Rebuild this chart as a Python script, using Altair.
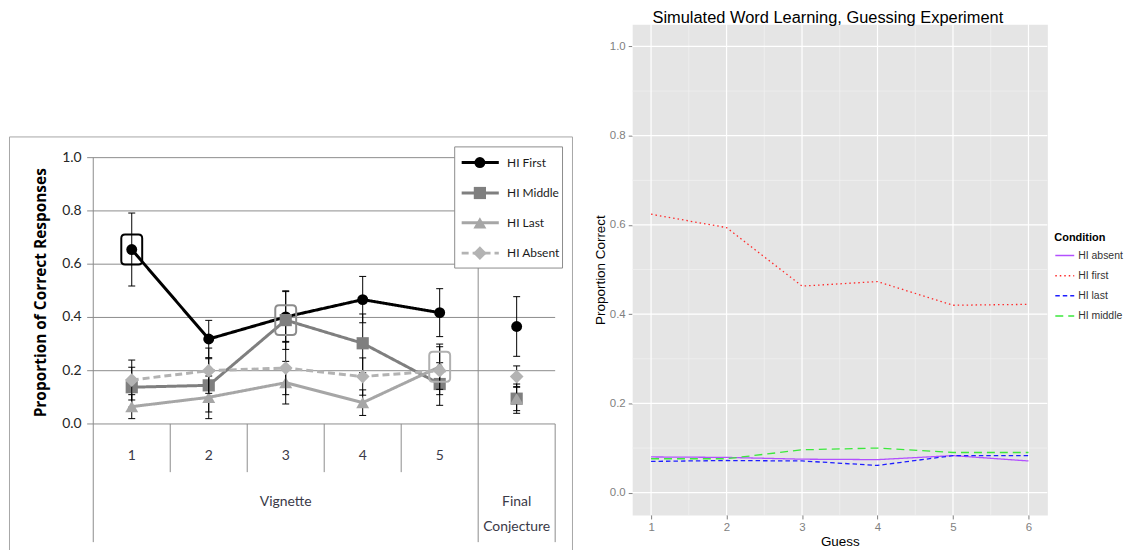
import altair as alt
import pandas as pd

# ---------------- Left panel data (Excel-style chart) ----------------
cat_pos = [1, 2, 3, 4, 5, 6]
cat_labels = ["1", "2", "3", "4", "5"]
series = ["HI First", "HI Middle", "HI Last", "HI Absent"]
hi_first = [0.655, 0.319, 0.402, 0.467, 0.418, 0.366]
hi_first_err = [0.137, 0.070, 0.095, 0.087, 0.090, 0.112]
hi_middle = [0.138, 0.145, 0.390, 0.303, 0.150, 0.095]
hi_middle_err = [0.075, 0.100, 0.110, 0.110, 0.080, 0.055]
hi_last = [0.065, 0.100, 0.155, 0.080, 0.215, 0.095]
hi_last_err = [0.045, 0.080, 0.080, 0.048, 0.085, 0.045]
hi_absent = [0.165, 0.200, 0.210, 0.178, 0.200, 0.178]
hi_absent_err = [0.075, 0.085, 0.100, 0.070, 0.090, 0.040]
highlight_cat = [1, 3, 5]
highlight_series = ["HI First", "HI Middle", "HI Last"]
left_ticks = [0.0, 0.2, 0.4, 0.6, 0.8, 1.0]

# ---------------- Right panel data (ggplot-style chart) ----------------
guess = [1, 2, 3, 4, 5, 6]
conditions = ["HI absent", "HI first", "HI last", "HI middle"]
sim_hi_absent = [0.080, 0.079, 0.075, 0.074, 0.083, 0.071]
sim_hi_first = [0.624, 0.594, 0.463, 0.473, 0.420, 0.422]
sim_hi_last = [0.070, 0.072, 0.071, 0.061, 0.083, 0.083]
sim_hi_middle = [0.076, 0.076, 0.096, 0.100, 0.090, 0.090]

# ---------------- styles ----------------
ser_color = ["#000000", "#7f7f7f", "#a6a6a6", "#b3b3b3"]
ser_shape = ["circle", "square", "triangle-up", "diamond"]
ser_size = [120, 150, 170, 190]
ser_dash = [[1, 0], [1, 0], [1, 0], [7, 4]]
box_color = ["#000000", "#8c8c8c", "#b0b0b0"]
cond_color = ["#B350FF", "#FF2A2A", "#1E1EFF", "#3CE83C"]
cond_dash = [[1, 0], [1.5, 3], [4.5, 3], [8, 5]]
LFONT = "Lato"
RFONT = "Liberation Sans"

# left panel: page-pixel layout helpers -> data space
def LX(p):
    return 1 + (p - 131.3) / 77.33

def LY(p):
    return (424.3 - p) / 267.5

T = 22.7          # page y of the top of the left plot area (aligned with right panel)
W1, H1 = 576, 525
xs = alt.Scale(domain=[LX(8), LX(8 + W1)], nice=False, zero=False)
ys = alt.Scale(domain=[LY(T + H1), LY(T)], nice=False, zero=False)


def X(f):
    return alt.X(f"{f}:Q", scale=xs, axis=None)


def Y(f):
    return alt.Y(f"{f}:Q", scale=ys, axis=None)


vals = {"HI First": (hi_first, hi_first_err), "HI Middle": (hi_middle, hi_middle_err),
        "HI Last": (hi_last, hi_last_err), "HI Absent": (hi_absent, hi_absent_err)}

layers = []
# frame (its bottom edge lies just below the visible page, as in the reference)
frame_df = pd.DataFrame({"x0": [LX(8.5)], "x1": [LX(574)], "y0": [LY(136)], "y1": [LY(553)]})
layers.append(alt.Chart(frame_df).mark_rect(fill="transparent", stroke="#a6a6a6", strokeWidth=1)
              .encode(x=X("x0"), x2="x1", y=Y("y0"), y2="y1"))
# horizontal gridlines
grid_df = pd.DataFrame({"y": left_ticks, "x0": [LX(86.5)] * len(left_ticks), "x1": [6.5] * len(left_ticks)})
layers.append(alt.Chart(grid_df).mark_rule(color="#8c8c8c", strokeWidth=1)
              .encode(x=X("x0"), x2="x1", y=Y("y")))
# category boundaries
bx = [1.5, 2.5, 3.5, 4.5, 0.5, 5.5, 6.5]
btop = [0, 0, 0, 0, 1.0, 1.0, 0]
bbot = [LY(472.7)] * 4 + [LY(543)] * 3
bnd_df = pd.DataFrame({"x": bx, "y0": btop, "y1": bbot})
layers.append(alt.Chart(bnd_df).mark_rule(color="#8c8c8c", strokeWidth=1)
              .encode(x=X("x"), y=Y("y0"), y2="y1"))
# y tick labels
tl_df = pd.DataFrame({"y": left_ticks, "x": [LX(81)] * len(left_ticks),
                      "t": [f"{v:.1f}" for v in left_ticks]})
layers.append(alt.Chart(tl_df).mark_text(align="right", baseline="middle", font=LFONT, fontSize=14,
                                         color="#262626")
              .encode(x=X("x"), y=Y("y"), text="t:N"))
# category labels
cl_df = pd.DataFrame({"x": cat_pos[:5], "y": [LY(456)] * 5, "t": cat_labels})
layers.append(alt.Chart(cl_df).mark_text(align="center", baseline="middle", font=LFONT, fontSize=14,
                                         color="#3a3a48")
              .encode(x=X("x"), y=Y("y"), text="t:N"))
gl_df = pd.DataFrame({"x": [3, 6, 6], "y": [LY(503), LY(503), LY(527.7)],
                      "t": ["Vignette", "Final", "Conjecture"]})
layers.append(alt.Chart(gl_df).mark_text(align="center", baseline="middle", font=LFONT, fontSize=14,
                                         color="#3a3a48")
              .encode(x=X("x"), y=Y("y"), text="t:N"))
# y title
yt_df = pd.DataFrame({"x": [LX(40)], "y": [LY(292.5)], "t": ["Proportion of Correct Responses"]})
layers.append(alt.Chart(yt_df).mark_text(align="center", baseline="middle", angle=270, font="Open Sans",
                                         fontSize=15.5, fontWeight="bold", color="#000000")
              .encode(x=X("x"), y=Y("y"), text="t:N"))

cap_shape = "M-1,0L1,0"
for i, s in enumerate(series):
    v, e = vals[s]
    df = pd.DataFrame({"cat": cat_pos, "v": v, "lo": [a - b for a, b in zip(v, e)],
                       "hi": [a + b for a, b in zip(v, e)]})
    layers.append(alt.Chart(df[df.cat <= 5]).mark_line(color=ser_color[i], strokeWidth=3,
                                                       strokeDash=ser_dash[i])
                  .encode(x=X("cat"), y=Y("v")))
    layers.append(alt.Chart(df).mark_rule(color="#000000", strokeWidth=1)
                  .encode(x=X("cat"), y=Y("lo"), y2="hi"))
    layers.append(alt.Chart(df).mark_point(shape=cap_shape, size=49, filled=False, color="#000000",
                                           strokeWidth=1, opacity=1)
                  .encode(x=X("cat"), y=Y("lo")))
    layers.append(alt.Chart(df).mark_point(shape=cap_shape, size=49, filled=False, color="#000000",
                                           strokeWidth=1, opacity=1)
                  .encode(x=X("cat"), y=Y("hi")))
    layers.append(alt.Chart(df).mark_point(shape=ser_shape[i], size=ser_size[i], filled=True,
                                           color=ser_color[i], opacity=1)
                  .encode(x=X("cat"), y=Y("v")))

# highlight boxes
box_path = ("M-0.45,-1L0.45,-1Q0.7,-1 0.7,-0.75L0.7,0.75Q0.7,1 0.45,1L-0.45,1"
            "Q-0.7,1 -0.7,0.75L-0.7,-0.75Q-0.7,-1 -0.45,-1Z")
for c, s, col in zip(highlight_cat, highlight_series, box_color):
    bdf = pd.DataFrame({"cat": [c], "v": [vals[s][0][c - 1]]})
    layers.append(alt.Chart(bdf).mark_point(shape=box_path, size=900, filled=False, color=col,
                                            strokeWidth=2, opacity=1)
                  .encode(x=X("cat"), y=Y("v")))

# custom legend of left panel
lg_df = pd.DataFrame({"x0": [LX(455.7)], "x1": [LX(564)], "y0": [LY(146)], "y1": [LY(267.7)]})
layers.append(alt.Chart(lg_df).mark_rect(fill="#ffffff", stroke="#8c8c8c", strokeWidth=1)
              .encode(x=X("x0"), x2="x1", y=Y("y0"), y2="y1"))
leg_y = [161.7, 192.3, 222.3, 252.7]
for i, s in enumerate(series):
    ldf = pd.DataFrame({"x0": [LX(462.7)], "x1": [LX(500)], "xm": [LX(481)], "xt": [LX(508.3)],
                        "y": [LY(leg_y[i])], "t": [s]})
    layers.append(alt.Chart(ldf).mark_rule(color=ser_color[i], strokeWidth=3, strokeDash=ser_dash[i])
                  .encode(x=X("x0"), x2="x1", y=Y("y")))
    layers.append(alt.Chart(ldf).mark_point(shape=ser_shape[i], size=ser_size[i], filled=True,
                                            color=ser_color[i], opacity=1)
                  .encode(x=X("xm"), y=Y("y")))
    layers.append(alt.Chart(ldf).mark_text(align="left", baseline="middle", font=LFONT, fontSize=12,
                                           color="#1a1a1a")
                  .encode(x=X("xt"), y=Y("y"), text="t:N"))

left = alt.layer(*layers).properties(width=W1, height=H1)

# ---------------- right panel ----------------
sim = {"HI absent": sim_hi_absent, "HI first": sim_hi_first, "HI last": sim_hi_last,
       "HI middle": sim_hi_middle}
rows = []
for c in conditions:
    for g, v in zip(guess, sim[c]):
        rows.append({"Guess": g, "Proportion": v, "Condition": c})
rdf = pd.DataFrame(rows)

rx = alt.Scale(domain=[0.75, 6.25], nice=False, zero=False)
ry = alt.Scale(domain=[-0.05, 1.05], nice=False, zero=False)
xaxis = alt.Axis(values=guess, title="Guess", grid=False, domain=False, tickColor="#7f7f7f",
                 tickSize=4, labelColor="#7f7f7f", labelFontSize=11.5, labelPadding=3, labelFont=RFONT,
                 titleFont=RFONT, titleFontSize=13.5, titleFontWeight="normal", titleColor="#000000",
                 titlePadding=1, format="d")
y_major = [0.0, 0.2, 0.4, 0.6, 0.8, 1.0]
yaxis = alt.Axis(values=y_major, title="Proportion Correct", grid=False, domain=False,
                 tickColor="#7f7f7f", tickSize=4, labelColor="#7f7f7f", labelFontSize=11.5, labelPadding=3,
                 labelFont=RFONT, titleFont=RFONT, titleFontSize=13.5, titleFontWeight="normal",
                 titleColor="#000000", titlePadding=2, format=".1f")

y_minor = [0.1, 0.3, 0.5, 0.7, 0.9]
x_minor = [1.5, 2.5, 3.5, 4.5, 5.5]
g1 = alt.Chart(pd.DataFrame({"y": y_minor})).mark_rule(color="#f2f2f2", strokeWidth=0.7).encode(
    y=alt.Y("y:Q", scale=ry, axis=yaxis))
g2 = alt.Chart(pd.DataFrame({"x": x_minor})).mark_rule(color="#f2f2f2", strokeWidth=0.7).encode(
    x=alt.X("x:Q", scale=rx, axis=xaxis))
g3 = alt.Chart(pd.DataFrame({"y": y_major})).mark_rule(color="#ffffff", strokeWidth=1.2).encode(
    y=alt.Y("y:Q", scale=ry, axis=yaxis))
g4 = alt.Chart(pd.DataFrame({"x": guess})).mark_rule(color="#ffffff", strokeWidth=1.2).encode(
    x=alt.X("x:Q", scale=rx, axis=xaxis))

rleg = alt.Legend(title="Condition", orient="none", legendX=424, legendY=209, symbolType="stroke",
                  symbolSize=361, symbolStrokeWidth=1.5, labelFont=RFONT, labelFontSize=10.5,
                  labelColor="#333333", titleFont=RFONT, titleFontSize=11, titleFontWeight="bold",
                  titleColor="#000000", rowPadding=4.2, labelOffset=3, titlePadding=2, padding=0)
lines = alt.Chart(rdf).mark_line(strokeWidth=1.3).encode(
    x=alt.X("Guess:Q", scale=rx, axis=xaxis),
    y=alt.Y("Proportion:Q", scale=ry, axis=yaxis),
    color=alt.Color("Condition:N", scale=alt.Scale(domain=conditions, range=cond_color), legend=rleg),
    strokeDash=alt.StrokeDash("Condition:N", scale=alt.Scale(domain=conditions, range=cond_dash),
                              legend=rleg),
)

right = alt.layer(g1, g2, g3, g4, lines).properties(
    width=417, height=493,
    title=alt.TitleParams("Simulated Word Learning, Guessing Experiment", font=RFONT, fontSize=16.5,
                          fontWeight="normal", color="#000000", anchor="middle", offset=-3, dx=-12),
    view=alt.ViewBackground(fill="#e5e5e5", stroke="transparent"),
)

chart = alt.hconcat(left, right, spacing=9).resolve_scale(
    x="independent", y="independent", color="independent", strokeDash="independent"
).properties(padding=0).configure_view(stroke="transparent")

chart.save("out.html", embed_options={"renderer": "svg", "actions": False})
